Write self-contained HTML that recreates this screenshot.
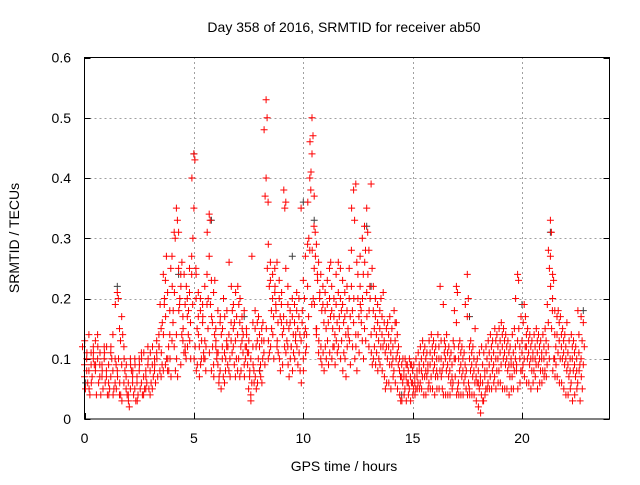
<!DOCTYPE html>
<html><head><meta charset="utf-8"><style>
body{margin:0;background:#fff;}
svg text{font-family:"Liberation Sans",sans-serif;font-size:14px;fill:#000;}
</style></head><body>
<svg id="chart" width="640" height="480" viewBox="0 0 640 480" xmlns="http://www.w3.org/2000/svg">
<rect x="0" y="0" width="640" height="480" fill="#fff"/>
<text x="344" y="32" text-anchor="middle">Day 358 of 2016, SRMTID for receiver ab50</text>
<text transform="translate(19,238) rotate(-90)" text-anchor="middle">SRMTID / TECUs</text>
<text x="344" y="471" text-anchor="middle">GPS time / hours</text>
<g id="grid"></g>
<g id="ticks"></g>
<g id="gray"></g>
<g id="red"></g>
<rect x="84.5" y="57.5" width="525" height="361.5" fill="none" stroke="#000" stroke-width="1"/>
</svg>
<script>
const xTicks=[0,5,10,15,20];
const yTicks=[0,0.1,0.2,0.3,0.4,0.5,0.6];
const yTickLabels=["0","0.1","0.2","0.3","0.4","0.5","0.6"];
const startHour=0, stepHour=0.1;
// values in hundredths of TECU, one group per 0.1 h bin
const redVals=[
[9,5,12,7],[10,6,13,8],[8,4,11,14],[11,7,5,9],[12,9,6,10],[8,4,11,13],[10,6,9,14],[7,4,12,9],[9,5,11,7],[10,6,8,12],
[8,4,11,7],[9,5,12,6],[7,10,4,11],[8,5,12,14],[6,9,4,10],[21,20,19,8,5],[15,13,7,4,10],[17,14,6,9,4],[12,8,3,6],[7,4,10,5],
[6,2,9,4],[5,8,3,10],[7,4,9,6],[5,3,8,10],[6,4,9,7],[8,5,3,10],[6,4,9,11],[7,5,10,4],[8,6,11,5],[9,5,7,12],
[8,6,10,4],[9,7,11,5],[10,6,12,8],[11,7,9,13],[12,8,10,14],[15,9,12,7,19],[24,19,11,8,16],[23,27,14,9,20],[21,12,17,8,10],[18,25,10,14,8],
[27,16,10,13,7],[31,30,22,12,18],[35,33,21,14,8],[31,19,10,25,7],[24,14,18,9,20],[17,11,22,13,26],[19,10,15,12,24],[20,14,11,17,22],[21,16,12,25,18],[27,19,13,24,10],
[44,43,40,35,30,25],[24,15,10,20,12],[21,12,8,17,9],[18,10,14,20,7],[16,11,9,19,13],[13,8,17,22,10],[24,15,10,19,12],[34,33,31,27,20],[23,16,11,8,19],[21,14,17,9,12],
[15,10,7,12,23],[9,6,13,18,11],[8,5,11,16,7],[12,7,17,10,14],[11,8,15,6,20],[13,9,17,12,10],[14,10,18,8,12],[16,11,26,13,7],[15,9,22,12,18],[13,10,19,7,16],
[14,10,21,8,17],[16,12,22,7,19],[17,11,20,13,8],[18,12,15,9,14],[15,11,7,12,10],[11,7,14,5,9],[10,6,13,4,8],[12,8,3,16,27],[18,12,9,15,6],[16,10,7,13,5],
[14,9,6,12,17],[15,10,8,13,7],[13,9,6,11,16],[53,50,48,40,37,36],[29,22,15,10,25],[26,18,13,23,11],[24,17,12,20,15],[25,19,14,21,10],[26,16,22,12,18],[23,17,13,20,11],
[19,14,10,16,8],[17,12,21,15,9],[25,16,38,36,35,12],[22,15,11,19,13],[18,12,9,16,7],[20,14,10,17,12],[19,13,8,16,11],[21,15,10,18,14],[20,14,12,17,9],[35,16,11,13,8],
[23,14,6,10,18],[27,12,8,15,20],[29,17,11,22,14],[40,38,36,28,30,19],[50,47,46,44,41,32],[37,31,28,25,20,15],[29,24,19,14,27],[26,20,15,11,23],[24,18,13,10,21],[22,16,12,19,9],
[21,15,11,18,8],[23,16,12,19,10],[25,17,13,20,9],[22,15,11,18,26],[20,14,10,17,12],[24,16,12,19,9],[26,17,13,21,11],[25,18,12,20,15],[23,16,10,19,13],[21,14,8,17,11],
[22,15,10,18,7],[25,17,12,20,14],[28,18,13,22,9],[38,33,35,16,12],[39,26,20,14,10],[24,17,12,20,8],[27,18,14,22,11],[30,24,19,13,16],[32,28,20,15,10],[35,31,26,21,13],
[28,22,17,12,24],[39,25,18,14,20],[22,15,11,18,9],[20,14,10,17,12],[19,13,9,16,11],[18,12,8,15,10],[17,12,9,14,20],[16,11,8,13,21],[15,10,7,12,5],[14,9,6,12,16],
[13,9,6,11,17],[12,8,5,10,15],[16,10,7,13,18],[14,9,6,11,16],[10,7,5,8,12],[9,6,4,7,3],[8,5,3,7,10],[9,6,4,7,10],[8,5,3,6,9],[9,6,4,7,10],
[8,5,3,6,9],[7,5,4,6,9],[8,6,4,7,10],[9,6,5,8,11],[10,7,5,8,12],[11,7,5,9,13],[10,7,4,8,12],[9,6,4,8,11],[11,7,5,9,13],[12,8,5,10,14],
[11,7,5,9,13],[10,7,4,8,12],[12,8,5,10,14],[13,8,5,10,22],[19,11,7,9,5],[12,8,4,10,13],[11,7,4,9,14],[10,6,4,8,12],[9,6,4,7,11],[12,7,5,10,13],
[22,21,18,16,10,6],[12,8,4,10,5],[11,7,4,9,13],[10,6,4,8,12],[9,5,4,7,11],[24,20,19,17,8,5],[12,8,4,10,6],[11,7,4,9,13],[10,6,4,8,12],[9,6,4,7,15],
[8,5,3,6,10],[7,4,2,6,11],[9,3,1,6,12],[8,5,3,7,11],[10,6,4,8,12],[11,7,5,9,13],[12,8,5,10,14],[11,7,5,9,13],[13,8,6,10,15],[12,8,5,10,14],
[13,9,6,11,15],[14,10,6,12,16],[13,9,5,11,15],[12,8,5,10,14],[11,7,5,9,13],[10,7,4,9,12],[11,8,5,9,14],[12,8,5,10,15],[24,23,20,13,9],[12,8,5,10,15],
[13,9,6,11,17],[19,12,8,10,16],[14,10,7,12,17],[13,9,6,11,15],[12,8,6,10,14],[11,8,5,10,13],[12,9,6,10,14],[13,9,7,11,15],[12,8,5,10,14],[11,8,6,10,13],
[12,8,6,10,14],[13,9,7,11,15],[16,10,7,12,19],[33,31,28,27,25,18],[24,23,22,20,15,10],[18,12,8,14,10],[17,11,7,14,9],[16,10,7,13,18],[14,10,6,12,17],[13,9,6,11,15],
[12,8,5,10,14],[11,7,4,9,16],[10,6,4,8,13],[12,8,5,10,14],[11,7,3,9,13],[10,6,4,8,12],[14,9,5,11,18],[17,13,8,10,3],[16,12,7,9,5]
];
const grayTimes=[0.05,1.5,4.3,5.0,5.8,7.3,8.0,9.5,10.0,10.5,12.9,13.1,14.5,17.6,20.0,21.3,22.8];
const grayVals=[0.06,0.22,0.24,0.44,0.33,0.17,0.08,0.27,0.36,0.33,0.32,0.22,0.04,0.17,0.19,0.31,0.18];

const X0=84.5,X1=609.5,Y0=419,Y1=57.5,XMAX=24,YMAX=0.6;
const sx=h=>X0+(X1-X0)*h/XMAX;
const sy=v=>Y0-(Y0-Y1)*v/YMAX;
const NS="http://www.w3.org/2000/svg";
const grid=document.getElementById('grid'),ticks=document.getElementById('ticks');
function mk(tag,attrs,parent){const e=document.createElementNS(NS,tag);for(const k in attrs)e.setAttribute(k,attrs[k]);parent.appendChild(e);return e;}
xTicks.forEach(t=>{
  const x=Math.round(sx(t))+0.5;
  if(t>0){const g=mk('line',{x1:x,x2:x,y1:Y0,y2:Y1,stroke:'#a0a0a0','stroke-dasharray':'2,3'},grid);
  
  }
  const l=mk('line',{x1:x,x2:x,y1:Y0,y2:Y0-6,stroke:'#000'},ticks);
  
  
  const tx=mk('text',{x:sx(t),y:443,'text-anchor':'middle'},ticks);tx.textContent=t;
  
  
});
yTicks.forEach((v,i)=>{
  const y=Math.round(sy(v))+0.5;
  if(v>0&&v<0.6){const g=mk('line',{x1:X0,x2:X1,y1:y,y2:y,stroke:'#a0a0a0','stroke-dasharray':'2,3'},grid);
  
  }
  const l=mk('path',{d:`M${X0} ${y}h6M${X1} ${y}h-6`,stroke:'#000'},ticks);
  
  
  const tx=mk('text',{x:71,y:sy(v)+5,'text-anchor':'end'},ticks);tx.textContent=yTickLabels[i];
  
  
});
function plus(x,y){return `M${(x-3.5).toFixed(1)} ${y.toFixed(1)}h7M${x.toFixed(1)} ${(y-3.5).toFixed(1)}v7`;}
let gd='';
grayTimes.forEach((t,i)=>{gd+=plus(sx(t),sy(grayVals[i]));});
const gp=mk('path',{d:gd,stroke:'#404040','stroke-width':1,fill:'none'},document.getElementById('gray'));


let rd='';
redVals.forEach((grp,i)=>{
  const t=startHour+i*stepHour;
  grp.forEach((v,j)=>{rd+=plus(sx(t)+(j%2?1:-1)*(j%3),sy(v/100));});
});
const rp=mk('path',{d:rd,stroke:'#ff0000','stroke-width':1,fill:'none'},document.getElementById('red'));


</script>
</body></html>
